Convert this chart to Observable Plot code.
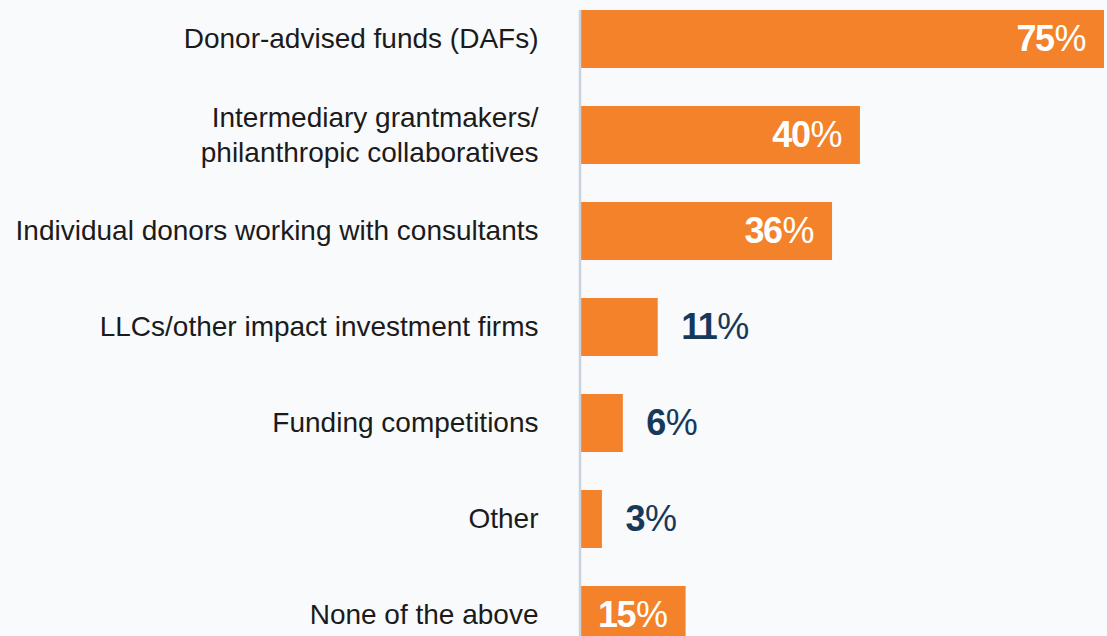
<!DOCTYPE html>
<html>
<head>
<meta charset="utf-8">
<script src="https://cdn.jsdelivr.net/npm/d3@7"></script>
<script src="https://cdn.jsdelivr.net/npm/@observablehq/plot@0.6"></script>
<style>
  html, body { margin: 0; padding: 0; background: #f9fafc; overflow: hidden; }
  #chart svg { display: block; }
</style>
</head>
<body>
<div id="chart"></div>
<script>
const categories = [
  "Donor-advised funds (DAFs)",
  "Intermediary grantmakers/\nphilanthropic collaboratives",
  "Individual donors working with consultants",
  "LLCs/other impact investment firms",
  "Funding competitions",
  "Other",
  "None of the above"
];
const values = [75, 40, 36, 11, 6, 3, 15];
const valueLabels = ["75", "40", "36", "11", "6", "3", "15"];

const data = categories.map((c, i) => ({category: c, value: values[i], label: valueLabels[i]}));
const inside = data.filter(d => d.value >= 15);
const outside = data.filter(d => d.value < 15);

const chart = Plot.plot({
  width: 1107,
  height: 636,
  marginLeft: 581,
  marginRight: 3,
  marginTop: 10,
  marginBottom: 0,
  style: {background: "#f9fafc", overflow: "hidden", fontFamily: "'Liberation Sans', Arial, sans-serif"},
  x: {domain: [0, 75], range: [581, 1104], axis: null},
  y: {domain: categories, range: [0, 654], paddingInner: 0.396, paddingOuter: 0.104, axis: null},
  marks: [
    Plot.barX(data, {x: "value", y: "category", fill: "#f3822a"}),
    Plot.ruleX([0], {dx: -1.5, stroke: "#c9d1dc", strokeWidth: 2.5}),
    Plot.text(data, {x: 0, y: "category", text: "category", textAnchor: "end", dx: -43, dy: -2,
      fontSize: 28, lineHeight: 1.22, fill: "#1b1b1b", letterSpacing: "-0.35px"}),
    Plot.text(inside, {x: "value", y: "category", text: d => d.label + "%", textAnchor: "end", dx: -18,
      fontSize: 36, fill: "#ffffff", dy: 0}),
    Plot.text(outside, {x: "value", y: "category", text: d => d.label + "%", textAnchor: "start", dx: 23,
      fontSize: 36, fill: "#16395a", dy: 0})
  ]
});

// Bold numbers, regular percent sign
d3.select(chart).selectAll("text").each(function() {
  const t = this.textContent;
  if (!/^\d+%$/.test(t)) return;
  const num = t.replace("%", "");
  const sel = d3.select(this);
  sel.text(null);
  sel.append("tspan").attr("font-weight", "bold").attr("letter-spacing", "-1.5px").text(num);
  sel.append("tspan").attr("font-weight", "normal").attr("dx", 1).text("%");
});

document.getElementById("chart").appendChild(chart);
</script>
</body>
</html>
